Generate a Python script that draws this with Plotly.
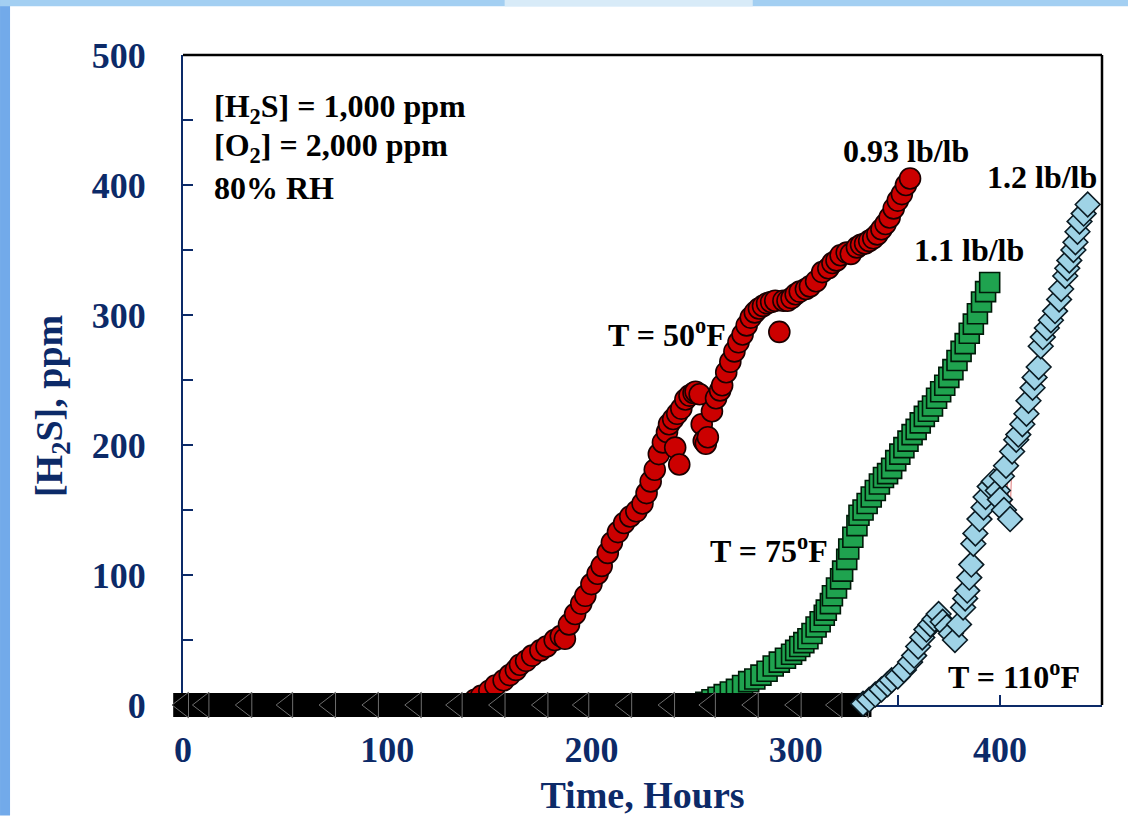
import plotly.graph_objects as go

# ---------------- data ----------------
red_hours = [143, 146, 150, 153, 157, 160, 163, 165, 168, 171, 175, 178, 182, 185, 187, 189,
             192, 195, 197, 200, 203, 205, 208, 210, 213, 216, 219, 222, 225, 227, 229, 231,
             233, 235, 237, 238, 240, 241, 242, 243, 244, 246, 248, 250, 251, 253, 254, 255,
             256, 257, 259, 261, 263, 264, 266, 268, 270, 272, 274, 276, 278, 280, 282, 284,
             286, 288, 290, 292, 294, 296, 298, 300, 302, 305, 307, 310, 313, 316, 318, 320,
             322, 325, 327, 330, 332, 334, 336, 338, 340, 342, 344, 346, 348, 350, 352, 354, 356]
red_ppm = [4, 7, 11, 15, 19, 23, 27, 31, 34, 38, 42, 45, 50, 53, 51, 62,
           70, 78, 84, 93, 101, 107, 117, 125, 133, 140, 145, 149, 155, 163, 172, 181,
           193, 202, 210, 216, 220, 198, 224, 185, 228, 235, 238, 240, 241, 239, 216, 203,
           201, 206, 226, 236, 242, 246, 256, 264, 272, 279, 285, 292, 298, 302, 305, 307,
           309, 310, 311, 287, 311, 311, 313, 316, 318, 320, 322, 326, 333, 336, 340, 342,
           346, 348, 347, 352, 354, 355, 357, 359, 362, 366, 370, 375, 382, 388, 393, 400, 405]

green_hours = [256, 259, 262, 265, 268, 271, 274, 277, 280, 283, 286, 289, 292, 295, 298, 300,
               302, 304, 306, 308, 310, 312, 314, 315, 317, 318, 320, 322, 323, 325, 326, 328,
               330, 331, 333, 335, 337, 339, 341, 343, 345, 347, 349, 351, 353, 355, 357, 359,
               361, 363, 365, 367, 369, 371, 373, 375, 377, 379, 381, 383, 385, 387, 389, 391,
               393, 395]
green_ppm = [2, 4, 6, 8, 10, 12, 15, 18, 20, 23, 26, 30, 33, 36, 39, 42,
             45, 48, 51, 55, 60, 64, 69, 73, 78, 84, 90, 97, 103, 112, 120, 129,
             138, 146, 150, 155, 160, 165, 170, 175, 178, 182, 188, 193, 198, 203, 208, 212,
             217, 222, 226, 230, 236, 241, 246, 252, 258, 265, 272, 278, 286, 293, 301, 310,
             318, 325]

cyan_hours = [333, 336, 339, 342, 345, 347, 350, 353, 356, 358, 360, 362, 364, 366, 368, 370,
              372, 374, 376, 378, 380, 382, 383, 384, 385, 386, 387, 388, 390, 392, 393, 395,
              397, 399, 400, 401, 402, 403, 405, 406, 408, 409, 411, 413, 414, 416, 417, 419,
              420, 421, 423, 425, 427, 429, 430, 432, 433, 434, 436, 437, 438, 439, 441, 443]
cyan_ppm = [1, 4, 8, 12, 16, 19, 22, 27, 33, 38, 45, 52, 58, 62, 66, 70,
            64, 60, 55, 50, 62, 75, 82, 88, 98, 108, 124, 132, 143, 152, 160, 168,
            172, 165, 158, 176, 150, 184, 143, 195, 204, 208, 216, 224, 234, 244, 252, 260,
            276, 283, 290, 296, 303, 312, 320, 330, 336, 342, 350, 356, 364, 372, 378, 385]

# readings of zero before breakthrough (black markers along the time axis)
zero_hours = [0, 10, 31, 51, 72, 93, 114, 134, 155, 176, 196, 217, 238, 258, 279, 300, 320, 333]
zero_ppm = [0, 0, 0, 0, 0, 0, 0, 0, 0, 0, 0, 0, 0, 0, 0, 0, 0, 0]

x_ticks = [0, 100, 200, 300, 400]
y_ticks = [0, 100, 200, 300, 400, 500]

NAVY = "#0c2a68"
SERIF = "Liberation Serif, Times New Roman, serif"

fig = go.Figure()

fig.add_trace(go.Scatter(
    x=red_hours, y=red_ppm, mode="markers", name="T = 50°F", cliponaxis=False,
    marker=dict(symbol="circle", size=21, color="#cc0000", opacity=1,
                line=dict(color="#1a0000", width=1.6))))

fig.add_trace(go.Scatter(
    x=green_hours, y=green_ppm, mode="markers", name="T = 75°F", cliponaxis=False,
    marker=dict(symbol="square", size=20, color="#1fa34f", opacity=1,
                line=dict(color="#001a08", width=1.6))))

# continuous black band made of wide horizontal-line markers
bar_sizes = [14] + [33] * (len(zero_hours) - 2) + [12]
fig.add_trace(go.Scatter(
    x=zero_hours, y=zero_ppm, mode="markers", name="zero band", cliponaxis=False,
    hoverinfo="skip",
    marker=dict(symbol="line-ew", size=bar_sizes, color="black", opacity=1,
                line=dict(color="black", width=24))))

fig.add_trace(go.Scatter(
    x=zero_hours, y=zero_ppm, mode="markers", name="zero", cliponaxis=False,
    marker=dict(symbol="triangle-left", size=22, color="black", opacity=1,
                line=dict(color="#6e6e6e", width=1))))

fig.add_trace(go.Scatter(
    x=cyan_hours, y=cyan_ppm, mode="lines+markers", name="T = 110°F", cliponaxis=False,
    line=dict(color="#e07a7a", width=1),
    marker=dict(symbol="diamond", size=19, color="#9fd3e6", opacity=1,
                line=dict(color="#0a1a22", width=1.6))))

ann_font = dict(family=SERIF, size=32, color="black", weight="bold")
annotations = [
    dict(x=14, y=459, text="[H<sub>2</sub>S] = 1,000 ppm", xanchor="left"),
    dict(x=14, y=429, text="[O<sub>2</sub>] = 2,000 ppm", xanchor="left"),
    dict(x=14, y=398, text="80% RH", xanchor="left"),
    dict(x=354, y=426, text="0.93 lb/lb", xanchor="center"),
    dict(x=420.5, y=406, text="1.2 lb/lb", xanchor="center"),
    dict(x=385, y=350, text="1.1 lb/lb", xanchor="center"),
    dict(x=237, y=286, text="T = 50<sup>o</sup>F", xanchor="center"),
    dict(x=287, y=120, text="T = 75<sup>o</sup>F", xanchor="center"),
    dict(x=407, y=23, text="T = 110<sup>o</sup>F", xanchor="center"),
]
for a in annotations:
    a.update(xref="x", yref="y", showarrow=False, yanchor="middle", font=ann_font)

# y-axis title placed as an annotation (it sits below the axis centre in the reference)
annotations.append(dict(
    xref="paper", yref="paper", x=-0.1425, y=0.46, showarrow=False,
    text="[H<sub>2</sub>S], ppm", textangle=-90, xanchor="center", yanchor="middle",
    font=dict(family=SERIF, size=38, color=NAVY, weight="bold")))

shapes = [
    # slide frame: blue strips at left and top
    dict(type="rect", xref="paper", yref="paper", x0=-0.1991, x1=-0.1882, y0=-0.17, y1=1.085,
         fillcolor="#72aaea", line=dict(width=0), layer="below"),
    dict(type="rect", xref="paper", yref="paper", x0=-0.1991, x1=1.0283, y0=1.075, y1=1.085,
         fillcolor="#a3cff2", line=dict(width=0), layer="below"),
    dict(type="rect", xref="paper", yref="paper", x0=0.35, x1=0.62, y0=1.075, y1=1.085,
         fillcolor="#d8ebf8", line=dict(width=0), layer="below"),
    # black top and right frame
    dict(type="line", xref="paper", yref="paper", x0=0, x1=1, y0=1, y1=1,
         line=dict(color="black", width=2.5)),
    dict(type="line", xref="paper", yref="paper", x0=1, x1=1, y0=0, y1=1,
         line=dict(color="black", width=2.5)),
]

fig.update_layout(
    width=1128, height=821, autosize=False,
    margin=dict(l=183, r=26, t=55, b=111),
    paper_bgcolor="white", plot_bgcolor="white",
    showlegend=False,
    annotations=annotations, shapes=shapes,
    font=dict(family=SERIF),
)

fig.update_xaxes(
    range=[0, 450], tickvals=x_ticks, showgrid=False, zeroline=False,
    showline=True, linecolor=NAVY, linewidth=2, layer="below traces",
    ticks="inside", ticklen=10, tickwidth=2, tickcolor=NAVY,
    minor=dict(dtick=50, ticks="inside", ticklen=10, tickwidth=2, tickcolor=NAVY, showgrid=False),
    tickfont=dict(family=SERIF, size=36, color=NAVY, weight="bold"),
    ticklabelstandoff=12,
    title=dict(text="Time, Hours", standoff=12,
               font=dict(family=SERIF, size=38, color=NAVY, weight="bold")),
)
fig.update_yaxes(
    range=[0, 500], tickvals=y_ticks, showgrid=False, zeroline=False,
    showline=True, linecolor=NAVY, linewidth=2, layer="below traces",
    ticks="inside", ticklen=10, tickwidth=2, tickcolor=NAVY,
    minor=dict(dtick=50, ticks="inside", ticklen=10, tickwidth=2, tickcolor=NAVY, showgrid=False),
    tickfont=dict(family=SERIF, size=36, color=NAVY, weight="bold"),
    ticklabelstandoff=28,
)

fig.write_html("out.html")
